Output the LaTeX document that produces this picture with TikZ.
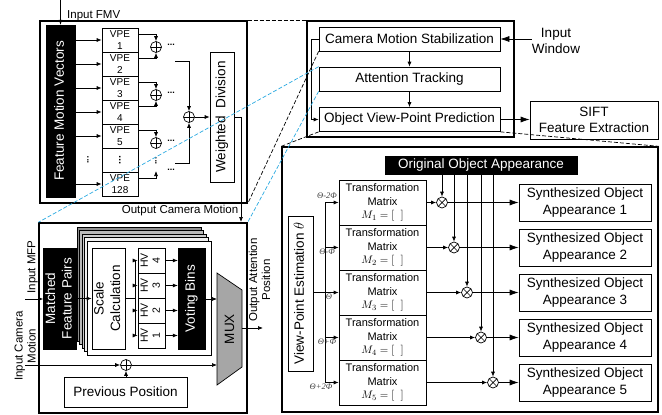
\documentclass[tikz,border=0pt]{standalone}
\usepackage{fontspec}
\setmainfont{Liberation Sans}
\newfontfamily\angfont{Liberation Serif}
\usepackage{graphicx}
\usetikzlibrary{arrows.meta,positioning,calc}

\newcommand{\vtext}[1]{\rotatebox{90}{\begin{tabular}{@{}c@{}}#1\end{tabular}}}
\newcommand{\vdotsb}{\rotatebox{90}{\bfseries...}}
\newcommand{\fsmain}{\fontsize{13.5}{16.5}\selectfont}
\newcommand{\fslbl}{\fontsize{11.5}{13}\selectfont}
\newcommand{\fsvpe}{\fontsize{10}{12}\selectfont}
\newcommand{\fshv}{\fontsize{10.5}{12}\selectfont}
\newcommand{\fstm}{\fontsize{11}{13.5}\selectfont}
\newcommand{\fsang}{\angfont\itshape\fontsize{8.5}{9}\selectfont}
\definecolor{zoomblue}{HTML}{29A9E1}
\definecolor{stackgray}{HTML}{8C8C8C}
\definecolor{muxgray}{HTML}{A6A6A6}

\tikzset{
  outerbox/.style={draw, line width=1.4pt, inner sep=0pt},
  box/.style={draw, fill=white, line width=0.7pt, inner sep=0pt, align=center, font=\fsmain},
  blk/.style={draw, fill=black, text=white, inner sep=0pt, align=center, font=\fsmain},
  lbl/.style={inner sep=0pt, align=center, font=\fslbl},
  arr/.style={line width=0.7pt, -{Latex[length=5pt,width=4pt]}},
  bigarr/.style={line width=0.7pt, -{Latex[length=9pt,width=6pt]}},
  dotsnode/.style={inner sep=0pt, font=\fontsize{9}{9}\selectfont\bfseries},
  sumnode/.style={draw, circle, fill=white, line width=0.7pt, minimum size=11pt, inner sep=0pt,
    path picture={\draw[line width=0.7pt] (path picture bounding box.north) -- (path picture bounding box.south)
      (path picture bounding box.west) -- (path picture bounding box.east);}},
  mulnode/.style={draw, circle, fill=white, line width=0.7pt, minimum size=11pt, inner sep=0pt,
    path picture={\draw[line width=0.7pt] (path picture bounding box.north west) -- (path picture bounding box.south east)
      (path picture bounding box.south west) -- (path picture bounding box.north east);}},
  zoomline/.style={line width=0.7pt, dash pattern=on 4pt off 2pt},
}

\begin{document}
\begin{tikzpicture}[x=1pt,y=-1pt]
\useasboundingbox (0,0) rectangle (662,415);

% camera motion stabilization (detail)
\node[outerbox, minimum width=207pt, minimum height=182pt] (cmframe) at (143.5,112) {};
\node[blk, minimum width=29pt, minimum height=172pt] (fmv) at (60.5,111) {\vtext{Feature Motion Vectors}};
\coordinate (fmvin) at (60.5,0);
\draw[arr] (fmvin) -- (fmv);
\node[lbl, anchor=base west] (fmvlbl) at (67,18) {Input FMV};

\foreach \k/\t in {1/{VPE\\1},2/{VPE\\2},3/{VPE\\3},4/{VPE\\4},5/{VPE\\5},6/{\vdotsb},7/{VPE\\128}}
  \node[box, font=\fsvpe, minimum width=36pt, minimum height=24pt] (v\k) at (120,16+24*\k) {\t};
\foreach \k in {1,2,3,4,5,7}
  \draw[arr] (fmv.east |- v\k) -- (v\k);
\node[dotsnode] (vdl) at (88,160) {\vdotsb};

% adder tree
\node[sumnode] (s1) at (156,47) {};
\node[sumnode] (s2) at (156,95) {};
\node[sumnode] (s3) at (156,143) {};
\draw[arr] ($(v1.north east)+(0,7)$) -| (s1);
\draw[arr] ($(v2.north east)+(0,7)$) -| (s1);
\draw[arr] ($(v3.north east)+(0,7)$) -| (s2);
\draw[arr] ($(v4.north east)+(0,7)$) -| (s2);
\draw[arr] ($(v5.north east)+(0,7)$) -| (s3);
\node[dotsnode] (vds) at (156,161) {\vdotsb};
\coordinate (s4in) at (156,171);
\draw[arr] ($(v7.north east)+(0,7)$) -| (s4in);
\foreach \y [count=\i] in {47,95,143,172}
  \node[dotsnode] (dd\i) at (171,\y-2) {...};

\node[sumnode] (S) at (189,117) {};
\coordinate (sin1) at (175,61);
\coordinate (sin2) at (175,163);
\draw[arr] (sin1) -| (S);
\draw[arr] (sin2) -| (S);
\node[box, minimum width=24pt, minimum height=130pt] (wd) at (222,117) {\vtext{Weighted\ \ Division}};
\draw[arr] (S) -- (wd);
\coordinate (ocm) at (241,222);
\draw[arr] (wd.east) -| (ocm);
\node[lbl] (ocmlbl) at (180,211) {Output Camera Motion};

% attention tracking (detail)
\node[outerbox, minimum width=208pt, minimum height=190pt] (atframe) at (143,318) {};
\foreach \k/\c in {0/stackgray,1/gray!55,2/gray!40,3/gray!12,4/white}
  \draw[fill=\c, line width=0.6pt] (77+2.5*\k,227+3.5*\k) rectangle ++(124,114);
\node[blk, minimum width=32pt, minimum height=101pt] (mfp) at (60,298.5) {\vtext{Matched\\Feature Pairs}};
\node[box, minimum width=33pt, minimum height=101pt] (sc) at (108.5,298.5) {\vtext{Scale\\Calculation}};
\foreach \k in {1,...,4}
  \node[box, font=\fshv, minimum width=27pt, minimum height=25pt] (hv\k) at (151.5,360.5-25*\k) {\vtext{HV\\\k}};
\node[blk, minimum width=27pt, minimum height=101pt] (vb) at (191.5,298.5) {\vtext{Voting Bins}};

\coordinate (mfpin) at (25,299);
\draw[arr] (mfpin) -- (mfp.west |- mfpin);
\node[lbl] (mfplbl) at (32.5,267) {\rotatebox{90}{Input MFP}};
\draw[arr] (mfp) -- (sc);
\foreach \k in {1,...,4}
  \draw[arr] (sc.east) -- ++(10,0) |- (hv\k.west);
\foreach \k in {1,...,4}
  \draw[arr] (hv\k.east) -- (vb.west |- hv\k);

\draw[fill=muxgray, line width=0.7pt] (217,273) -- (242,290) -- (242,367) -- (217,385) -- cycle;
\node[font=\fsmain] (mux) at (229.5,329) {\rotatebox{90}{MUX}};
\coordinate (muxa) at (217,299);
\coordinate (muxb) at (217,365);
\coordinate (muxo) at (242,328);
\draw[arr] (vb.east |- muxa) -- (muxa);
\coordinate (aout) at (263,328);
\draw[arr] (muxo) -- (aout);
\node[lbl] (aoutlbl) at (261,280) {\vtext{Output Attention\\Position}};

\coordinate (cmin) at (25,365);
\node[sumnode] (p) at (126,365) {};
\draw[arr] (cmin) -- (p);
\draw[arr] (p) -- (muxb);
\node[box, minimum width=123pt, minimum height=30pt] (pp) at (125.5,392) {Previous Position};
\draw[arr] (pp.north -| p) -- (p);
\node[lbl] (cmlbl) at (26.5,346) {\vtext{Input Camera\\Motion}};

% system overview
\node[outerbox, minimum width=207pt, minimum height=116pt] (ovframe) at (410.5,79) {};
\node[box, minimum width=181pt, minimum height=24pt] (cms) at (409.5,39) {Camera Motion Stabilization};
\node[box, minimum width=181pt, minimum height=24pt] (att) at (409.5,79) {Attention Tracking};
\node[box, minimum width=181pt, minimum height=24pt] (ovp) at (409.5,119.5) {Object View-Point Prediction};
\draw[arr] (cms) -- (att);
\draw[arr] (att) -- (ovp);
\draw[arr] (cms.west) -- ++(-7,0) |- (ovp.west);
\node[lbl, font=\fsmain] (iwin) at (556,41) {Input\\Window};
\draw[bigarr] (iwin.west |- cms.east) -- (cms.east);
\node[box, minimum width=128pt, minimum height=38pt] (sift) at (594,120) {SIFT\\Feature Extraction};
\draw[bigarr] (ovp.east) -- (ovp.east -| sift.west);

% object view-point prediction (detail)
\node[outerbox, minimum width=376pt, minimum height=265pt] (vpframe) at (470,279.5) {};
\node[blk, minimum width=192pt, minimum height=18pt] (ooa) at (481,165) {Original Object Appearance};
\node[box, minimum width=25pt, minimum height=155pt] (vpest) at (300.5,293.5) {\vtext{View-Point Estimation $\theta$}};
\foreach \k in {1,...,5}
  \node[box, font=\fstm, minimum width=87pt, minimum height=45pt] (tm\k) at (382.5,157.5+45*\k) {Transformation\\Matrix\\$M_{\k}=[\;\;]$};
\foreach \k/\x in {1/442,2/454,3/467,4/481,5/493}
  \node[mulnode] (m\k) at (\x,157.5+45*\k) {};
\foreach \k in {1,...,5}
  \node[box, minimum width=132pt, minimum height=37pt] (soa\k) at (585,157.5+45*\k) {Synthesized Object\\Appearance \k};
\foreach \k in {1,...,5} {
  \draw[arr] (vpest.east |- tm3) -- ++(12,0) |- (tm\k.west);
  \draw[arr] (ooa.south -| m\k) -- (m\k);
  \draw[arr] (tm\k) -- (m\k);
  \draw[bigarr] (m\k) -- (soa\k);
}
\foreach \k/\x/\y/\t in {1/327/196/{Θ-2Φ},2/327/252/{Θ-Φ},3/329/297/{Θ},4/327/342/{Θ+Φ},5/321/387/{Θ+2Φ}}
  \node[inner sep=0pt, font=\fsang, text=black!75] (ang\k) at (\x,\y) {\t};

% zoom lines
\draw[zoomline] (cmframe.north east) -- (ovframe.north west);
\draw[zoomline] (cms.south west) -- (cmframe.south east);
\draw[zoomline, zoomblue] (att.north west) -- (atframe.north west);
\draw[zoomline, zoomblue] (att.south west) -- (atframe.north east);
\draw[zoomline] (ovp.south west) -- (vpframe.north west);
\draw[zoomline] (ovp.south east) -- (vpframe.north east);
\end{tikzpicture}
\end{document}
